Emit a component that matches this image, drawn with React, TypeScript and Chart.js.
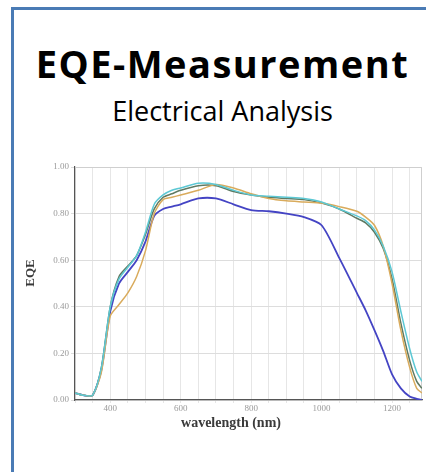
import React, { useEffect, useRef } from "react";
import { Chart, registerables } from "chart.js";

Chart.register(...registerables);

const titleText = "EQE-Measurement";
const subtitleText = "Electrical Analysis";
const xAxisTitle = "wavelength (nm)";
const yAxisTitle = "EQE";

const wavelengths = [300, 325, 350, 375, 400, 425, 450, 475, 500, 525, 550, 575, 600, 650, 700, 750, 800, 850, 900, 950, 1000, 1050, 1100, 1125, 1150, 1175, 1200, 1225, 1250, 1270, 1285];

const blueEQE = [0.03, 0.02, 0.02, 0.13, 0.38, 0.5, 0.55, 0.6, 0.68, 0.79, 0.82, 0.83, 0.84, 0.865, 0.865, 0.84, 0.815, 0.81, 0.8, 0.785, 0.75, 0.61, 0.46, 0.385, 0.3, 0.21, 0.11, 0.05, 0.015, 0.005, 0.0];
const tealEQE = [0.03, 0.02, 0.02, 0.14, 0.4, 0.53, 0.575, 0.62, 0.71, 0.82, 0.87, 0.885, 0.9, 0.92, 0.92, 0.895, 0.88, 0.87, 0.865, 0.86, 0.845, 0.82, 0.78, 0.76, 0.72, 0.65, 0.52, 0.33, 0.17, 0.08, 0.05];
const cyanEQE = [0.03, 0.02, 0.02, 0.14, 0.4, 0.52, 0.57, 0.62, 0.72, 0.84, 0.88, 0.9, 0.91, 0.93, 0.925, 0.9, 0.88, 0.875, 0.87, 0.865, 0.85, 0.82, 0.79, 0.77, 0.73, 0.66, 0.55, 0.38, 0.22, 0.12, 0.08];
const orangeEQE = [0.03, 0.02, 0.02, 0.12, 0.36, 0.41, 0.46, 0.53, 0.64, 0.8, 0.86, 0.87, 0.88, 0.9, 0.925, 0.91, 0.885, 0.865, 0.855, 0.85, 0.845, 0.83, 0.81, 0.785, 0.75, 0.66, 0.5, 0.3, 0.14, 0.05, 0.03];

const xTickLabels = [400, 600, 800, 1000, 1200];

function pairs(ys: number[]) {
  return wavelengths.map((x, i) => ({ x, y: ys[i] }));
}

const framePlugin = {
  id: "frame",
  beforeDatasetsDraw(chart: any) {
    const { ctx, chartArea } = chart;
    ctx.save();
    ctx.strokeStyle = "#cfcfcf";
    ctx.lineWidth = 1;
    ctx.beginPath();
    ctx.moveTo(chartArea.left, chartArea.top + 0.5);
    ctx.lineTo(chartArea.right - 0.5, chartArea.top + 0.5);
    ctx.lineTo(chartArea.right - 0.5, chartArea.bottom);
    ctx.stroke();
    ctx.restore();
  },
};

function EqeChart() {
  const ref = useRef<HTMLCanvasElement | null>(null);
  useEffect(() => {
    if (!ref.current) return;
    const serif = "'Liberation Serif', 'DejaVu Serif', serif";
    const chart = new Chart(ref.current, {
      type: "line",
      data: {
        datasets: [
          { label: "cyan", data: pairs(cyanEQE), borderColor: "#5cc8d4", borderWidth: 1.5 },
          { label: "orange", data: pairs(orangeEQE), borderColor: "#d9ab5c", borderWidth: 1.5 },
          { label: "teal", data: pairs(tealEQE), borderColor: "#5f7a62", borderWidth: 1.5 },
          { label: "blue", data: pairs(blueEQE), borderColor: "#4444c4", borderWidth: 1.8 },
        ],
      },
      options: {
        animation: false,
        responsive: false,
        maintainAspectRatio: false,
        elements: { point: { radius: 0 }, line: { tension: 0.25 } },
        layout: { padding: { left: 0, right: 4, top: 17, bottom: 0 } },
        plugins: { legend: { display: false }, tooltip: { enabled: false } },
        scales: {
          x: {
            type: "linear",
            min: 300,
            max: 1285,
            afterFit: (s: any) => { s.height = 40; },
            ticks: {
              stepSize: 50,
              includeBounds: false,
              autoSkip: false,
              maxRotation: 0,
              color: "#9a9a9a",
              font: { family: serif, size: 9 },
              padding: 0,
              callback: (v: any) => (xTickLabels.includes(Number(v)) ? String(v) : ""),
            },
            grid: { color: "#e6e6e6", lineWidth: 1, tickLength: 3, drawTicks: true },
            border: { color: "#555555", width: 1.2 },
          },
          y: {
            type: "linear",
            min: 0,
            max: 1,
            afterFit: (s: any) => { s.width = 55; },
            ticks: {
              stepSize: 0.2,
              color: "#9a9a9a",
              font: { family: serif, size: 9 },
              padding: 2,
              callback: (v: any) => Number(v).toFixed(2),
            },
            grid: { color: "#dddddd", lineWidth: 1, tickLength: 4 },
            border: { color: "#555555", width: 1.2 },
          },
        },
      },
      plugins: [framePlugin],
    });
    return () => chart.destroy();
  }, []);
  return <canvas ref={ref} width={406} height={290} style={{ position: "absolute", left: 20, top: 150, width: 406, height: 290 }} />;
}

export default function App() {
  const serif = "'Liberation Serif', 'DejaVu Serif', serif";
  return (
    <div style={{ position: "fixed", left: 0, top: 0, width: 426, height: 472, overflow: "hidden", background: "#fff" }}>
      <div style={{ position: "absolute", left: 11, top: 7, width: 460, height: 500, border: "3px solid #4a7bb5", boxSizing: "border-box" }} />
      <div style={{ position: "absolute", left: 0, width: 445, top: 43.6, textAlign: "center", fontFamily: "'Open Sans', sans-serif", fontWeight: 700, fontSize: 38, lineHeight: "38px", color: "#000", whiteSpace: "nowrap", letterSpacing: 1.5 }}>{titleText}</div>
      <div style={{ position: "absolute", left: 0, width: 445, top: 96.5, textAlign: "center", fontFamily: "'Open Sans', sans-serif", fontWeight: 400, fontSize: 27, lineHeight: "27px", color: "#000", whiteSpace: "nowrap" }}>{subtitleText}</div>
      <EqeChart />
      <div style={{ position: "absolute", left: 131, width: 200, top: 415, textAlign: "center", fontFamily: serif, fontWeight: 700, fontSize: 14, lineHeight: "16px", color: "#3a3a3a", whiteSpace: "nowrap" }}>{xAxisTitle}</div>
      <div style={{ position: "absolute", left: 0, width: 60, top: 265, textAlign: "center", fontFamily: serif, fontWeight: 700, fontSize: 13, lineHeight: "16px", color: "#3a3a3a", whiteSpace: "nowrap", transform: "translate(0px, 0px) rotate(-90deg)", transformOrigin: "30px 8px" }}>{yAxisTitle}</div>
    </div>
  );
}
